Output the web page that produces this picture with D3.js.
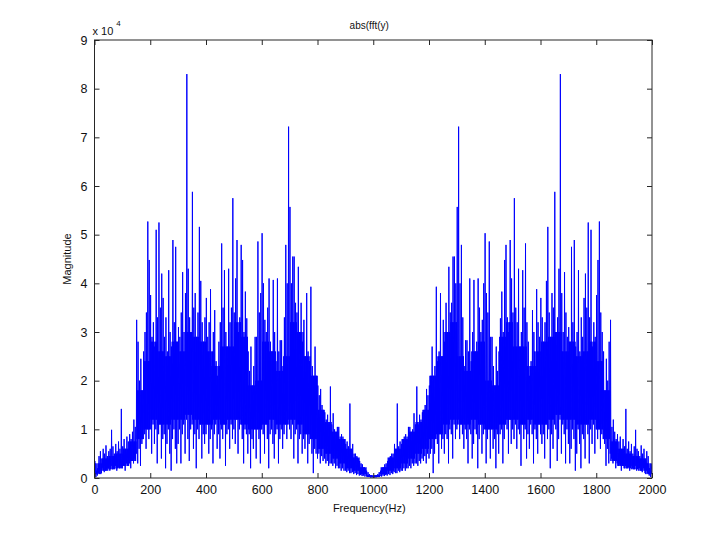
<!DOCTYPE html>
<html>
<head>
<meta charset="utf-8">
<script src="https://cdn.jsdelivr.net/npm/d3@7"></script>
<style>
  body { margin: 0; background: #fff; }
  svg { display: block; font-family: "Liberation Sans", Arial, sans-serif; }
</style>
</head>
<body>
<div id="chart"></div>
<script>
// Spectrum, in units of 1e4, one column every 5 Hz.
// For each column: lowest (lo) and highest (hi) value of the trace.
const binHz = 5;

// 0 .. 995 Hz
const hiLeft = [
  0.35, 0.15, 0.2, 0.45, 0.55, 0.4, 0.6, 0.5, 0.67, 0.45,
  0.55, 0.6, 0.99, 0.65, 0.5, 0.7, 0.55, 0.75, 0.6, 1.42,
  0.65, 0.8, 0.6, 0.85, 0.75, 0.9, 0.8, 0.95, 1.2, 1.05,
  3.25, 2.8, 2.0, 2.45, 1.8, 2.6, 3.0, 3.4, 5.27, 4.48,
  3.76, 2.9, 3.2, 2.7, 5.1, 3.3, 5.25, 3.5, 4.2, 3.7,
  2.9, 3.3, 2.6, 4.27, 3.0, 2.7, 4.89, 3.2, 4.75, 2.8,
  3.1, 2.9, 3.4, 4.23, 3.0, 3.8, 8.3, 4.3, 3.3, 3.0,
  5.88, 3.5, 3.8, 2.9, 3.4, 5.16, 4.05, 3.2, 2.8, 3.3,
  3.7, 2.9, 3.2, 3.88, 2.3, 3.0, 3.45, 2.4, 2.1, 2.8,
  3.2, 4.82, 3.5, 4.27, 3.0, 2.7, 4.3, 3.2, 3.5, 5.75,
  3.4, 4.1, 4.89, 3.0, 3.3, 4.79, 4.48, 3.0, 3.83, 3.28,
  2.6, 2.2, 2.7, 1.9, 2.3, 2.9, 2.9, 4.86, 3.4, 3.8,
  5.03, 4.0, 3.25, 3.0, 3.5, 4.1, 2.8, 2.6, 4.07, 3.0,
  2.4, 4.1, 2.6, 2.83, 2.83, 2.3, 3.3, 4.79, 4.0, 7.22,
  5.57, 4.0, 4.55, 4.55, 3.6, 3.4, 4.34, 3.0, 3.6, 2.8,
  3.25, 2.5, 3.8, 2.6, 2.4, 3.93, 2.3, 2.1, 2.7, 2.1,
  1.9, 1.7, 1.83, 1.5, 1.4, 1.35, 1.2, 1.3, 1.1, 1.88,
  1.1, 1.33, 1.0, 0.95, 1.05, 1.05, 0.85, 0.9, 0.85, 0.8,
  0.7, 0.75, 0.65, 1.53, 0.6, 0.7, 0.5, 0.5, 0.45, 0.4,
  0.35, 0.3, 0.28, 0.22, 0.2, 0.15, 0.12, 0.08, 0.06, 0.04
];
const loLeft = [
  0.05, 0.02, 0.05, 0.1, 0.15, 0.1, 0.2, 0.12, 0.15, 0.2,
  0.2, 0.15, 0.25, 0.18, 0.2, 0.25, 0.15, 0.22, 0.2, 0.25,
  0.2, 0.25, 0.15, 0.3, 0.25, 0.3, 0.2, 0.35, 0.3, 0.4,
  0.5, 0.3, 0.6, 0.25, 0.7, 0.8, 0.9, 0.6, 1.0, 0.8,
  1.0, 0.5, 1.1, 0.7, 1.0, 0.3, 0.9, 1.1, 0.4, 0.8,
  0.9, 0.2, 0.7, 1.0, 0.5, 0.15, 0.8, 1.0, 0.6, 0.3,
  0.7, 1.0, 0.3, 0.9, 1.1, 0.5, 1.2, 0.8, 0.35, 1.0,
  1.1, 0.6, 0.9, 0.2, 1.0, 0.8, 1.1, 0.4, 0.9, 0.7,
  0.9, 1.1, 0.5, 0.8, 1.0, 0.3, 0.9, 1.1, 0.6, 0.9,
  0.4, 1.0, 0.8, 1.1, 0.25, 0.9, 1.0, 0.6, 1.1, 0.8,
  1.0, 0.7, 1.2, 0.5, 1.0, 1.1, 0.8, 0.3, 1.0, 0.9,
  0.5, 0.9, 0.2, 0.8, 0.6, 1.0, 0.4, 1.0, 0.8, 0.3,
  1.0, 0.9, 0.5, 1.1, 0.8, 0.2, 0.9, 1.0, 0.7, 0.4,
  0.9, 1.0, 0.3, 0.8, 1.0, 0.6, 0.9, 1.1, 0.8, 1.2,
  1.0, 0.8, 1.1, 0.4, 0.9, 1.0, 0.3, 0.8, 0.9, 0.5,
  0.8, 0.6, 0.9, 0.3, 0.7, 0.8, 0.5, 0.1, 0.6, 0.5,
  0.4, 0.5, 0.3, 0.45, 0.35, 0.4, 0.3, 0.35, 0.25, 0.3,
  0.3, 0.25, 0.3, 0.2, 0.25, 0.2, 0.2, 0.15, 0.2, 0.15,
  0.15, 0.12, 0.15, 0.1, 0.1, 0.12, 0.08, 0.1, 0.06, 0.08,
  0.05, 0.06, 0.04, 0.05, 0.03, 0.04, 0.02, 0.02, 0.01, 0.01
];

// 1000 .. 1995 Hz
const hiRight = [
  0.02, 0.04, 0.06, 0.08, 0.12, 0.15, 0.2, 0.22, 0.28, 0.3,
  0.35, 0.4, 0.45, 0.5, 0.5, 0.7, 0.6, 1.53, 0.65, 0.75,
  0.7, 0.8, 0.85, 0.9, 0.85, 1.05, 1.05, 0.95, 1.0, 1.33,
  1.1, 1.88, 1.1, 1.3, 1.2, 1.35, 1.4, 1.5, 1.83, 1.7,
  1.9, 2.1, 2.7, 2.1, 2.3, 3.93, 2.4, 2.6, 3.8, 2.5,
  3.25, 2.8, 3.6, 3.0, 4.34, 3.4, 3.6, 4.55, 4.55, 4.0,
  5.57, 7.22, 4.0, 4.79, 3.3, 2.3, 2.83, 2.83, 2.6, 4.1,
  2.4, 3.0, 4.07, 2.6, 2.8, 4.1, 3.5, 3.0, 3.25, 4.0,
  5.03, 3.8, 3.4, 4.86, 2.9, 2.9, 2.3, 1.9, 2.7, 2.2,
  2.6, 3.28, 3.83, 3.0, 4.48, 4.79, 3.3, 3.0, 4.89, 4.1,
  3.4, 5.75, 3.5, 3.2, 4.3, 2.7, 3.0, 4.27, 3.5, 4.82,
  3.2, 2.8, 2.1, 2.4, 3.45, 3.0, 2.3, 3.88, 3.2, 2.9,
  3.7, 3.3, 2.8, 3.2, 4.05, 5.16, 3.4, 2.9, 3.8, 3.5,
  5.88, 3.0, 3.3, 4.3, 8.3, 3.8, 3.0, 4.23, 3.4, 2.9,
  3.1, 2.8, 4.75, 3.2, 4.89, 2.7, 3.0, 4.27, 2.6, 3.3,
  2.9, 3.7, 4.2, 3.5, 5.25, 3.3, 5.1, 2.7, 3.2, 2.9,
  3.76, 4.48, 5.27, 3.4, 3.0, 2.6, 1.8, 2.45, 2.0, 2.8,
  3.25, 1.05, 1.2, 0.95, 0.8, 0.9, 0.75, 0.85, 0.6, 0.8,
  0.65, 1.42, 0.6, 0.75, 0.55, 0.7, 0.5, 0.65, 0.99, 0.6,
  0.55, 0.45, 0.67, 0.5, 0.6, 0.4, 0.55, 0.45, 0.2, 0.15
];
const loRight = [
  0.0, 0.01, 0.01, 0.02, 0.02, 0.04, 0.03, 0.05, 0.04, 0.06,
  0.05, 0.08, 0.06, 0.1, 0.08, 0.12, 0.1, 0.1, 0.15, 0.12,
  0.15, 0.15, 0.2, 0.15, 0.2, 0.2, 0.25, 0.2, 0.3, 0.25,
  0.3, 0.3, 0.25, 0.35, 0.3, 0.4, 0.35, 0.45, 0.3, 0.5,
  0.4, 0.5, 0.6, 0.1, 0.5, 0.8, 0.7, 0.3, 0.9, 0.6,
  0.8, 0.5, 0.9, 0.8, 0.3, 1.0, 0.9, 0.4, 1.1, 0.8,
  1.0, 1.2, 0.8, 1.1, 0.9, 0.6, 1.0, 0.8, 0.3, 1.0,
  0.9, 0.4, 0.7, 1.0, 0.9, 0.2, 0.8, 1.1, 0.5, 0.9,
  1.0, 0.3, 0.8, 1.0, 0.4, 1.0, 0.6, 0.8, 0.2, 0.9,
  0.5, 0.9, 1.0, 0.3, 0.8, 1.1, 1.0, 0.5, 1.2, 0.7,
  1.0, 0.8, 1.1, 0.6, 1.0, 0.9, 0.25, 1.1, 0.8, 1.0,
  0.4, 0.9, 0.6, 1.1, 0.9, 0.3, 1.0, 0.8, 0.5, 1.1,
  0.9, 0.7, 0.9, 0.4, 1.1, 0.8, 1.0, 0.2, 0.9, 0.6,
  1.1, 1.0, 0.35, 0.8, 1.2, 0.5, 1.1, 0.9, 0.3, 1.0,
  0.7, 0.3, 0.6, 1.0, 0.8, 0.15, 0.5, 1.0, 0.7, 0.2,
  0.9, 0.8, 0.4, 1.1, 0.9, 0.3, 1.0, 0.7, 1.1, 0.5,
  1.0, 0.8, 1.0, 0.6, 0.9, 0.8, 0.7, 0.25, 0.6, 0.3,
  0.5, 0.4, 0.3, 0.35, 0.2, 0.3, 0.25, 0.3, 0.15, 0.25,
  0.2, 0.25, 0.2, 0.22, 0.15, 0.25, 0.2, 0.18, 0.25, 0.15,
  0.2, 0.2, 0.15, 0.12, 0.2, 0.1, 0.15, 0.1, 0.05, 0.02
];

// Solid core of the trace (where the line is densest), one value per 25 Hz
const coreHz = 25;
const coreLoLeft = [
  0.08, 0.15, 0.18, 0.2, 0.25, 0.35, 0.8, 1.0, 1.2, 1.1,
  1.1, 1.2, 1.2, 1.3, 1.2, 1.1, 1.1, 1.2, 1.1, 1.2,
  1.2, 1.1, 1.0, 1.0, 1.1, 1.2, 1.1, 1.1, 1.2, 1.1,
  0.9, 0.8, 0.6, 0.5, 0.4, 0.3, 0.2, 0.15, 0.08, 0.02
];
const coreHiLeft = [
  0.3, 0.4, 0.45, 0.5, 0.6, 0.75, 1.8, 2.4, 2.8, 2.6,
  2.5, 2.8, 2.6, 3.0, 2.9, 2.8, 2.6, 2.3, 2.7, 2.7,
  3.2, 2.9, 1.9, 2.0, 2.8, 2.6, 2.2, 2.5, 3.2, 3.0,
  2.5, 2.1, 1.4, 1.15, 0.95, 0.8, 0.6, 0.42, 0.22, 0.06
];
const coreLoRight = [
  0.02, 0.08, 0.15, 0.2, 0.3, 0.4, 0.5, 0.6, 0.8, 0.9,
  1.1, 1.2, 1.1, 1.1, 1.2, 1.1, 1.0, 1.0, 1.1, 1.2,
  1.2, 1.1, 1.2, 1.1, 1.1, 1.2, 1.3, 1.2, 1.2, 1.1,
  1.1, 1.2, 1.0, 0.8, 0.35, 0.25, 0.2, 0.18, 0.15, 0.08
];
const coreHiRight = [
  0.06, 0.22, 0.42, 0.6, 0.8, 0.95, 1.15, 1.4, 2.1, 2.5,
  3.0, 3.2, 2.5, 2.2, 2.6, 2.8, 2.0, 1.9, 2.9, 3.2,
  2.7, 2.7, 2.3, 2.6, 2.8, 2.9, 3.0, 2.6, 2.8, 2.5,
  2.6, 2.8, 2.4, 1.8, 0.75, 0.6, 0.5, 0.45, 0.4, 0.3
];

const xTicks = [0, 200, 400, 600, 800, 1000, 1200, 1400, 1600, 1800, 2000];
const yTicks = [0, 1, 2, 3, 4, 5, 6, 7, 8, 9];
const yScaleExp = 4;

function drawChart() {
    let win_width = 720, win_height = 538;
    let margin = {top: 40, right: 68, bottom: 60, left: 94.5};
    let width = win_width - margin.left - margin.right;
    let height = win_height - margin.top - margin.bottom;

    let svg = d3.select("#chart")
        .append("svg")
        .attr("width", win_width)
        .attr("height", win_height);

    let g = svg.append("g")
        .attr("transform", "translate(" + margin.left + "," + margin.top + ")");

    let x = d3.scaleLinear().domain([0, 2000]).range([0, width]);
    let y = d3.scaleLinear().domain([0, 9]).range([height, 0]);

    // zig-zag the trace inside each 5 Hz column: lo -> hi -> core lo -> core hi
    let pts = [];
    let addColumns = function(start, hi, lo, coreLo, coreHi) {
        hi.forEach(function(h, i) {
            let f = start + i * binHz;
            let c = Math.floor(i * binHz / coreHz);
            pts.push([f, lo[i]]);
            pts.push([f + binHz * 0.25, h]);
            pts.push([f + binHz * 0.5, coreLo[c]]);
            pts.push([f + binHz * 0.75, coreHi[c]]);
        });
    };
    addColumns(0, hiLeft, loLeft, coreLoLeft, coreHiLeft);
    addColumns(1000, hiRight, loRight, coreLoRight, coreHiRight);

    svg.append("clipPath").attr("id", "plotclip")
        .append("rect").attr("width", width).attr("height", height);

    g.append("path")
        .datum(pts)
        .attr("clip-path", "url(#plotclip)")
        .attr("fill", "none")
        .attr("stroke", "#0000ff")
        .attr("stroke-width", 1)
        .attr("stroke-linejoin", "bevel")
        .attr("d", d3.line()
            .x(function(d) { return x(d[0]); })
            .y(function(d) { return y(d[1]); }));

    // MATLAB style box with inward ticks on all four sides
    let axColor = "#262626";
    g.append("g")
        .attr("transform", "translate(0," + height + ")")
        .call(d3.axisBottom(x).tickValues(xTicks).tickFormat(d3.format("d"))
            .tickSizeInner(-5).tickSizeOuter(0).tickPadding(7));
    g.append("g")
        .call(d3.axisTop(x).tickValues(xTicks).tickSizeInner(-5).tickSizeOuter(0).tickFormat(""));
    g.append("g")
        .call(d3.axisLeft(y).tickValues(yTicks).tickFormat(d3.format("d"))
            .tickSizeInner(-5).tickSizeOuter(0).tickPadding(7));
    g.append("g")
        .attr("transform", "translate(" + width + ",0)")
        .call(d3.axisRight(y).tickValues(yTicks).tickSizeInner(-5).tickSizeOuter(0).tickFormat(""));

    g.selectAll(".domain").remove();
    g.selectAll(".tick line").attr("stroke", axColor);
    g.selectAll(".tick text")
        .attr("fill", "#111")
        .style("font-size", "12.5px")
        .style("font-family", "'Liberation Sans', Arial, sans-serif");

    g.append("rect")
        .attr("width", width)
        .attr("height", height)
        .attr("fill", "none")
        .attr("stroke", axColor)
        .attr("stroke-width", 1);

    // exponent marker
    let expo = svg.append("text")
        .attr("x", margin.left - 2)
        .attr("y", 35)
        .attr("fill", "#111")
        .style("font-size", "11px");
    expo.append("tspan").text("x 10");
    expo.append("tspan")
        .attr("dy", -9)
        .attr("dx", 3)
        .style("font-size", "8px")
        .text(yScaleExp);

    // title and labels
    svg.append("text")
        .attr("x", margin.left + width / 2 - 4)
        .attr("y", 29)
        .attr("text-anchor", "middle")
        .attr("fill", "#111")
        .style("font-size", "10px")
        .text("abs(fft(y)");

    svg.append("text")
        .attr("x", margin.left + width / 2 - 4)
        .attr("y", 512)
        .attr("text-anchor", "middle")
        .attr("fill", "#111")
        .style("font-size", "11px")
        .text("Frequency(Hz)");

    svg.append("text")
        .attr("transform", "translate(71," + (margin.top + height / 2) + ") rotate(-90)")
        .attr("text-anchor", "middle")
        .attr("fill", "#111")
        .style("font-size", "11px")
        .text("Magnitude");
}

drawChart();
</script>
</body>
</html>
